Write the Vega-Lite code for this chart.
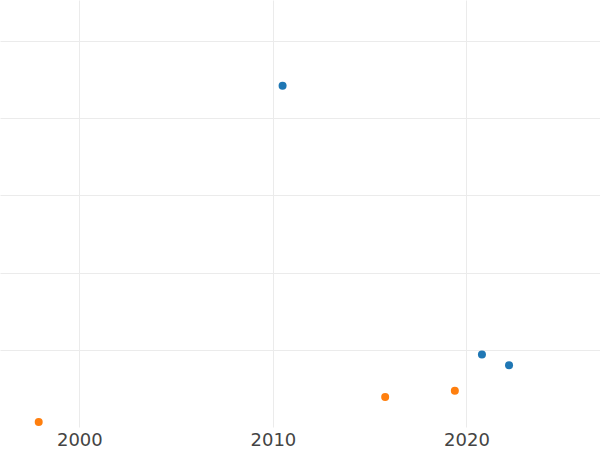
{
  "$schema": "https://vega.github.io/schema/vega-lite/v6.json",
  "width": 600,
  "height": 427,
  "autosize": "none",
  "padding": {"left": 0, "top": 0, "right": 0, "bottom": 23},
  "background": "white",
  "config": {"view": {"stroke": null}},
  "data": {"values": [
    {"year": 2010.5, "value": 4.42, "series": "A"},
    {"year": 2020.8, "value": 0.94, "series": "A"},
    {"year": 2022.2, "value": 0.80, "series": "A"},
    {"year": 1997.9, "value": 0.065, "series": "B"},
    {"year": 2015.8, "value": 0.39, "series": "B"},
    {"year": 2019.4, "value": 0.47, "series": "B"}
  ]},
  "mark": {"type": "circle", "size": 64, "opacity": 1},
  "encoding": {
    "x": {"field": "year", "type": "quantitative",
      "scale": {"domain": [1995.9, 2026.9], "nice": false, "zero": false},
      "axis": {"values": [2000, 2010, 2020], "format": "d", "title": null, "domain": false, "ticks": false,
        "labelFontSize": 18, "labelColor": "#444444", "labelFont": "DejaVu Sans", "labelPadding": 4,
        "gridColor": "#ebebeb", "gridWidth": 1}},
    "y": {"field": "value", "type": "quantitative",
      "scale": {"domain": [0, 5.53], "nice": false, "zero": false},
      "axis": {"values": [1, 2, 3, 4, 5], "labels": false, "title": null, "domain": false, "ticks": false,
        "gridColor": "#ebebeb", "gridWidth": 1}},
    "color": {"field": "series", "type": "nominal",
      "scale": {"domain": ["A", "B"], "range": ["#1f77b4", "#ff7f0e"]}, "legend": null}
  }
}
